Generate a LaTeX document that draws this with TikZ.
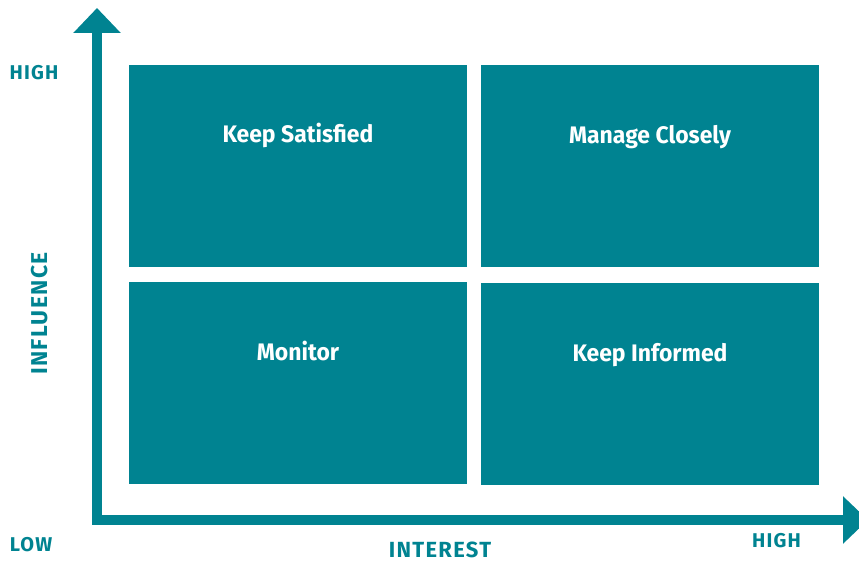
\documentclass[tikz,border=0pt]{standalone}
\usepackage{fontspec}
\usepackage{tikz}
\usetikzlibrary{arrows.meta}

\newfontfamily\quadfont{Fira Sans}[FakeStretch=0.96]
\newfontfamily\capsfont{Fira Sans}[LetterSpace=6]
\definecolor{gridteal}{RGB}{0,131,145}

\begin{document}
\begin{tikzpicture}[x=1bp,y=-1bp,
  quad/.style={fill=gridteal,minimum width=338bp,minimum height=202bp,inner sep=0pt},
  quadtext/.style={text=white,font=\quadfont\bfseries\fontsize{24}{26}\selectfont,anchor=base},
  axis/.style={gridteal,line width=10bp,{Triangle[length=25bp,width=46bp]}-{Triangle[length=25bp,width=46bp]}},
  axistext/.style={text=gridteal,font=\capsfont\bfseries\fontsize{22}{24}\selectfont,anchor=base},
  tick/.style={text=gridteal,font=\capsfont\bfseries\fontsize{20}{22}\selectfont,anchor=base}]
  \useasboundingbox (0,0) rectangle (859,565);
  % the four quadrants
  \node[quad] (satisfied) at (298,166) {};
  \node[quad] (manage) at (650,166) {};
  \node[quad] (monitor) at (298,383) {};
  \node[quad] (informed) at (650,384) {};
  \node[quadtext] (satisfiedtxt) at ([yshift=-78bp]satisfied.north) {Keep Satisfied};
  \node[quadtext] (managetxt) at ([yshift=-79bp]manage.north) {Manage Closely};
  \node[quadtext] (monitortxt) at ([yshift=-79bp]monitor.north) {Monitor};
  \node[quadtext] (informedtxt) at ([yshift=-79bp]informed.north) {Keep Informed};
  % axes
  \coordinate (ytip) at (97,8);
  \coordinate (xtip) at (868,520);
  \draw[axis] (ytip) |- (xtip);
  \node[axistext,rotate=90,font=\capsfont\bfseries\fontsize{23}{25}\selectfont] (influence) at (47.5,313.5) {INFLUENCE};
  \node[axistext] (interest) at (440,557) {INTEREST};
  \node[tick] (yhigh) at (34,80) {HIGH};
  \node[tick] (ylow) at (31,551) {LOW};
  \node[tick] (xhigh) at (776.5,547.5) {HIGH};
\end{tikzpicture}
\end{document}
